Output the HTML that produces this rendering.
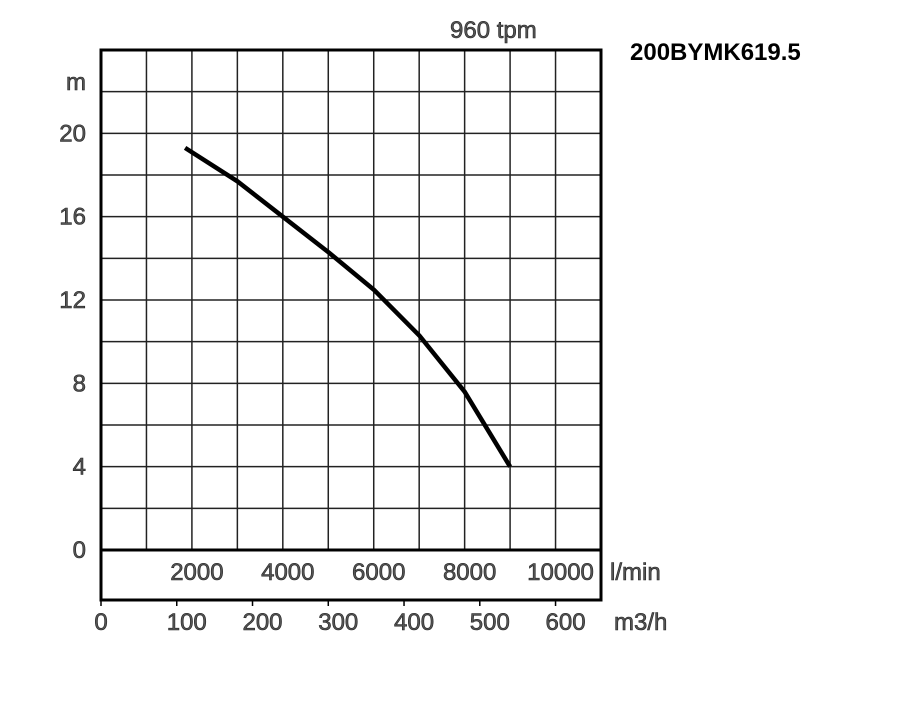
<!DOCTYPE html>
<html><head><meta charset="utf-8"><style>
body{margin:0;background:#fff}
svg text{font-family:"Liberation Sans",sans-serif;font-size:24px;fill:#555;stroke:#222;stroke-width:0.6px}
</style></head><body>
<svg id="chart" width="900" height="700" viewBox="0 0 900 700" xmlns="http://www.w3.org/2000/svg">
<g id="grid"></g>
<g id="frame"></g>
<g id="labels"></g>
<g id="series"></g>
<text x="450" y="38">960 tpm</text>
<text x="630" y="60" style="font-weight:bold;fill:#000;stroke:none">200BYMK619.5</text>
<text x="66" y="90">m</text>
<text x="610" y="580">l/min</text>
<text x="614" y="630">m3/h</text>
</svg>
<script>
const flowLmin = [1850, 3000, 4000, 5000, 6000, 7000, 8000, 9000];
const headM = [19.3, 17.7, 16.0, 14.3, 12.5, 10.3, 7.6, 4.0];
const yTicks = [0, 4, 8, 12, 16, 20];
const lminTicks = [2000, 4000, 6000, 8000, 10000];
const m3hTicks = [0, 100, 200, 300, 400, 500, 600];

const NS = "http://www.w3.org/2000/svg";
const X0 = 101, X1 = 601, Y0 = 550, YT = 50;
const xL = v => X0 + v / 11000 * (X1 - X0);
const xM = v => X0 + v / 660 * (X1 - X0) * (660 / 660);
const xMh = v => xL(v * 1000 / 60);
const y = v => Y0 - v / 24 * (Y0 - YT);
function mk(tag, attrs, parent) {
  const e = document.createElementNS(NS, tag);
  for (const k in attrs) e.setAttribute(k, attrs[k]);
  parent.appendChild(e);
  return e;
}
const grid = document.getElementById('grid');
for (let i = 1; i < 11; i++) {
  const l = mk('line', {x1: X0 + i * 500 / 11, x2: X0 + i * 500 / 11, y1: YT, y2: Y0, stroke: '#222', 'stroke-width': 1.5}, grid);
  
  
}
for (let i = 1; i < 12; i++) {
  const l = mk('line', {x1: X0, x2: X1, y1: YT + i * 500 / 12, y2: YT + i * 500 / 12, stroke: '#222', 'stroke-width': 1.5}, grid);
  
  
}
const frame = document.getElementById('frame');
const fr = mk('rect', {x: X0, y: YT, width: X1 - X0, height: Y0 - YT, fill: 'none', stroke: '#000', 'stroke-width': 3}, frame);


const ax = mk('path', {d: `M${X0} ${Y0} V600 H${X1} V${Y0}`, fill: 'none', stroke: '#000', 'stroke-width': 3}, frame);


const labels = document.getElementById('labels');
yTicks.forEach(v => {
  const t = mk('text', {x: 86, y: y(v) + 8, 'text-anchor': 'end'}, labels);
  t.textContent = v;
  
  
});
lminTicks.forEach(v => {
  const t = mk('text', {x: xL(v) + 5, y: 580, 'text-anchor': 'middle'}, labels);
  t.textContent = v;
  
  
});
m3hTicks.forEach(v => {
  const tx = xMh(v);
  const tk = mk('line', {x1: tx, x2: tx, y1: 600, y2: 606, stroke: '#000', 'stroke-width': 1.5}, labels);
  
  
  const t = mk('text', {x: v === 0 ? tx : tx + 10, y: 630, 'text-anchor': 'middle'}, labels);
  t.textContent = v;
  
  
});
const series = document.getElementById('series');
const d = flowLmin.map((f, i) => (i ? 'L' : 'M') + xL(f).toFixed(1) + ' ' + y(headM[i]).toFixed(1)).join(' ');
const p = mk('path', {d: d, fill: 'none', stroke: '#000', 'stroke-width': 4.5, 'stroke-linejoin': 'round'}, series);


</script>
</body></html>
